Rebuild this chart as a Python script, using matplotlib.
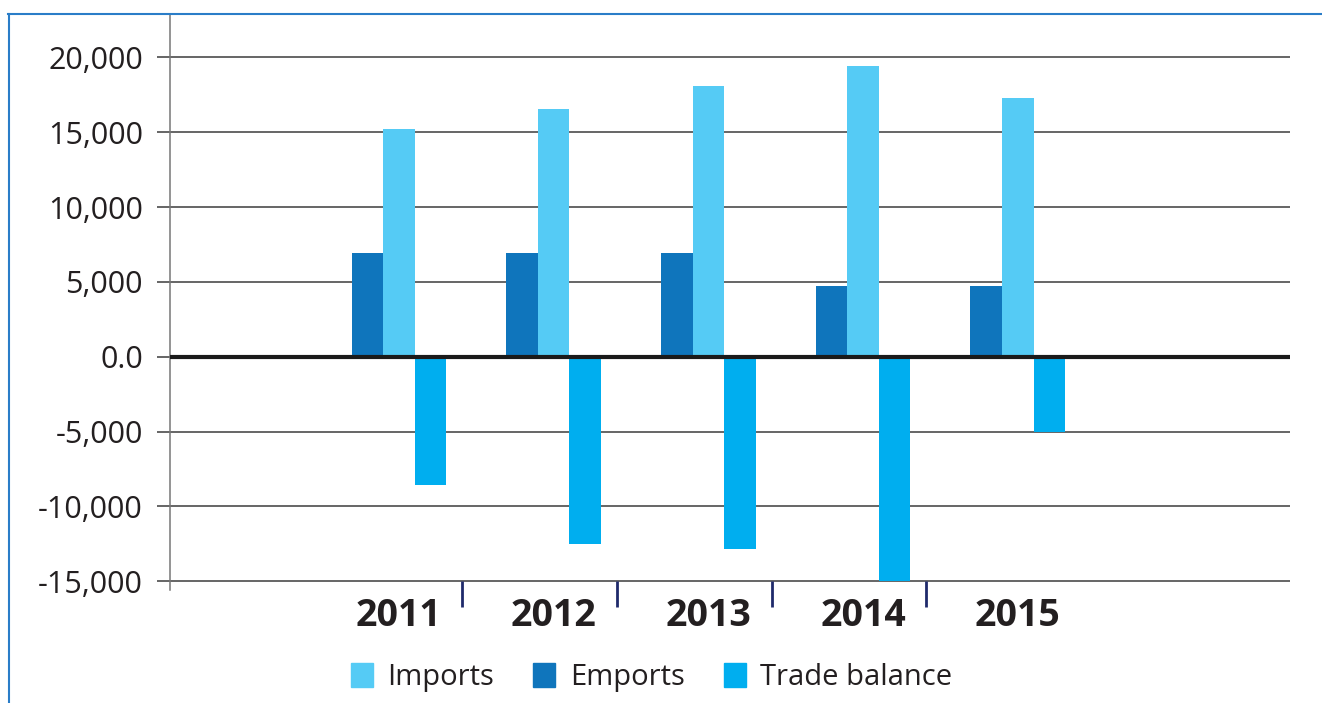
import numpy as np
import matplotlib
matplotlib.use("Agg")
import matplotlib.pyplot as plt
from matplotlib.lines import Line2D
from matplotlib.patches import Patch

# data
years = ["2011", "2012", "2013", "2014", "2015"]
imports = [15200, 16550, 18100, 19450, 17300]
emports = [6900, 6900, 6900, 4700, 4700]
trade_balance = [-8600, -12500, -12850, -15000, -5000]
ytick_values = [20000, 15000, 10000, 5000, 0, -5000, -10000, -15000]
ytick_labels = ["20,000", "15,000", "10,000", "5,000", "0.0", "-5,000", "-10,000", "-15,000"]

c_imp = "#55CBF5"
c_emp = "#0F75BC"
c_trd = "#00AEEF"
txt = "#231F20"
grid_c = "#3C3C3C"

plt.rcParams["font.family"] = ["Open Sans", "DejaVu Sans"]

W, H = 1322, 703
fig = plt.figure(figsize=(W / 100, H / 100), dpi=100)
ax = fig.add_axes([170 / W, (H - 590) / H, 1120 / W, 576 / H])

x = np.arange(len(years))
bw = 0.204
ax.bar(x - bw, emports, bw, color=c_emp, zorder=3)
ax.bar(x, imports, bw, color=c_imp, zorder=3)
ax.bar(x + bw, trade_balance, bw, color=c_trd, zorder=3)

ax.set_xlim(-1.48, 5.76)
ax.set_ylim(-15585, 22893)

# gridlines, zero line thick and black
for v in ytick_values:
    if v == 0:
        ax.axhline(v, color="#1A1A1A", lw=3, zorder=4)
    else:
        ax.axhline(v, color=grid_c, lw=1.1, zorder=1)

ax.set_yticks(ytick_values)
ax.set_yticklabels(ytick_labels, fontsize=22, color=txt)
ax.tick_params(axis="y", length=9.5, width=1.1, color=grid_c, pad=10)

ax.set_xticks(x)
ax.set_xticklabels(years, fontsize=27, fontweight="bold", color=txt)
ax.tick_params(axis="x", length=0, pad=5)

# category separators under the axis
ax.vlines(x[:-1] + 0.41, -16700, -15000, color="#1F2A6B", lw=2, clip_on=False, zorder=5)

for s in ["top", "right", "bottom"]:
    ax.spines[s].set_visible(False)
ax.spines["left"].set_color("#777777")
ax.spines["left"].set_linewidth(1.1)

# blue frame
fig.add_artist(Line2D([8 / W, 1], [1 - 14 / H, 1 - 14 / H], color="#2A7DC8", lw=1.5))
fig.add_artist(Line2D([9 / W, 9 / W], [0, 1 - 14 / H], color="#2A7DC8", lw=1.5))

handles = [Patch(color=c_imp), Patch(color=c_emp), Patch(color=c_trd)]
fig.legend(handles, ["Imports", "Emports", "Trade balance"], loc="lower center",
           bbox_to_anchor=(0.493, -0.022), ncol=3, frameon=False, fontsize=21,
           handlelength=0.75, handleheight=0.85, handletextpad=0.5, columnspacing=1.35,
           labelcolor=txt)

fig.savefig("out.png", dpi=100)
